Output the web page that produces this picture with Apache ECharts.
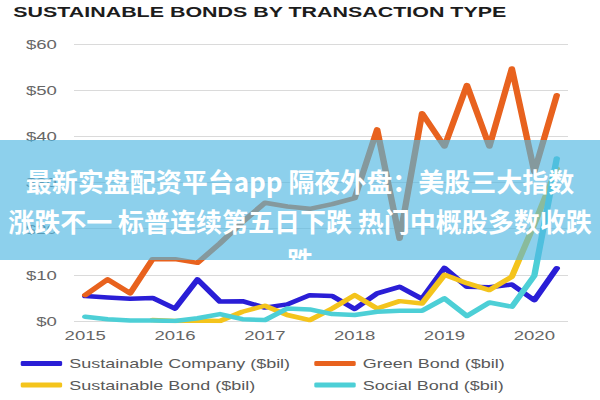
<!DOCTYPE html>
<html>
<head>
<meta charset="utf-8">
<script src="https://cdn.jsdelivr.net/npm/echarts@6/dist/echarts.min.js"></script>
<style>
html,body{margin:0;padding:0;background:#fff;overflow:hidden}
#wrap{width:600px;height:400px;overflow:hidden;position:relative}
#chart{width:420px;height:400px;transform:scaleX(1.428571);transform-origin:0 0}
</style>
</head>
<body>
<div id="wrap"><div id="chart"></div></div>
<script>
// ---- data (quarterly, $bil) ----
const quarters = ['2015 Q1','2015 Q2','2015 Q3','2015 Q4','2016 Q1','2016 Q2','2016 Q3','2016 Q4',
  '2017 Q1','2017 Q2','2017 Q3','2017 Q4','2018 Q1','2018 Q2','2018 Q3','2018 Q4',
  '2019 Q1','2019 Q2','2019 Q3','2019 Q4','2020 Q1','2020 Q2'];
const seriesNames = ['Sustainable Company ($bil)','Green Bond ($bil)','Sustainable Bond ($bil)','Social Bond ($bil)'];
const sustainableCompany = [5.4,5.1,4.8,5.0,2.7,9.0,4.2,4.3,2.9,3.6,5.6,5.4,2.6,6.0,7.4,4.8,11.5,7.4,7.3,7.9,4.5,11.4];
const greenBond = [5.6,9.0,6.0,13.4,13.4,12.6,16.8,21.4,25.6,24.8,24.3,25.3,26.6,41.5,17.8,45.0,37.8,51.1,37.8,54.7,32.3,48.9];
const sustainableBond = [null,null,null,0.2,0.0,0.1,0.0,2.0,3.3,1.3,0.2,2.7,5.6,2.7,4.3,3.8,10.0,8.2,6.7,9.6,21.0,33.0];
const socialBond = [0.9,0.4,0.1,0.1,0.0,0.6,1.5,0.4,0.2,2.7,2.5,1.5,1.3,2.0,2.2,2.2,4.9,1.1,4.0,3.1,9.8,35.2];
const yTicks = {min: 0, max: 60, interval: 10};
const titleText = 'SUSTAINABLE BONDS BY TRANSACTION TYPE';
const bannerLines = ['最新实盘配资平台app 隔夜外盘：美股三大指数', '涨跌不一 标普连续第五日下跌 热门中概股多数收跌', '跌'];

const colors = ['#2a1ed6', '#e8621e', '#f4c41c', '#4dcfd6'];
const values = [sustainableCompany, greenBond, sustainableBond, socialBond];
const FONT = '"Liberation Sans", Arial, sans-serif';
const SX = 1 / 1.428571;

const chart = echarts.init(document.getElementById('chart'), null, {renderer: 'svg'});

const legendCommon = {
  orient: 'vertical', top: 352, itemWidth: 29, itemHeight: 5, itemGap: 8.6,
  icon: 'roundRect', padding: 5,
  textStyle: {fontFamily: FONT, fontSize: 12.6, color: '#595959'}
};

chart.setOption({
  animation: false,
  backgroundColor: '#fff',
  title: {
    text: titleText, left: 9.3, top: 4.5, padding: 0,
    textStyle: {fontFamily: FONT, fontWeight: 'bold', fontSize: 15, color: '#1c1c1c'}
  },
  legend: [
    Object.assign({}, legendCommon, {left: 9.5, data: [seriesNames[0], seriesNames[2]]}),
    Object.assign({}, legendCommon, {left: 215, data: [seriesNames[1], seriesNames[3]]})
  ],
  grid: {left: 51.8, right: 22.4, top: 44, bottom: 79, containLabel: false, outerBoundsMode: 'none'},
  xAxis: {
    type: 'category', data: quarters, boundaryGap: true,
    axisLine: {show: false}, axisTick: {show: false},
    axisLabel: {interval: 3, margin: 8, fontFamily: FONT, fontSize: 13, color: '#666',
      formatter: v => v.split(' ')[0]},
    splitLine: {show: false}
  },
  yAxis: {
    type: 'value', min: yTicks.min, max: yTicks.max, interval: yTicks.interval,
    axisLine: {show: false}, axisTick: {show: false},
    axisLabel: {margin: 12, fontFamily: FONT, fontSize: 13, color: '#666', formatter: v => '$' + v},
    splitLine: {lineStyle: {color: '#dadada', width: 1}}
  },
  series: seriesNames.map((name, i) => ({
    name: name, type: 'line', data: values[i], showSymbol: false, symbol: 'none',
    connectNulls: false,
    itemStyle: {color: colors[i]},
    lineStyle: {color: colors[i], width: 4.5, cap: 'round', join: 'round'},
    emphasis: {disabled: true}
  })),
  graphic: [
    {type: 'rect', z: 100, shape: {x: 0, y: 140, width: 420, height: 120},
      style: {fill: 'rgba(80,183,226,0.65)'}},
    {type: 'text', z: 101, x: 210, y: 180.5, scaleX: SX,
      style: {text: bannerLines[0], fill: '#fff', align: 'center', verticalAlign: 'middle',
        font: 'bold 26px "Noto Sans CJK SC", sans-serif'}},
    {type: 'text', z: 101, x: 210, y: 220, scaleX: SX,
      style: {text: bannerLines[1], fill: '#fff', align: 'center', verticalAlign: 'middle',
        font: 'bold 26px "Noto Sans CJK SC", sans-serif'}},
    {type: 'text', z: 101, x: 210, y: 259.5, scaleX: SX,
      style: {text: bannerLines[2], fill: '#fff', align: 'center', verticalAlign: 'middle',
        font: 'bold 26px "Noto Sans CJK SC", sans-serif'}},
    {type: 'rect', z: 102, shape: {x: 199, y: 260, width: 22, height: 13}, style: {fill: '#fff'}}
  ]
});
</script>
</body>
</html>
